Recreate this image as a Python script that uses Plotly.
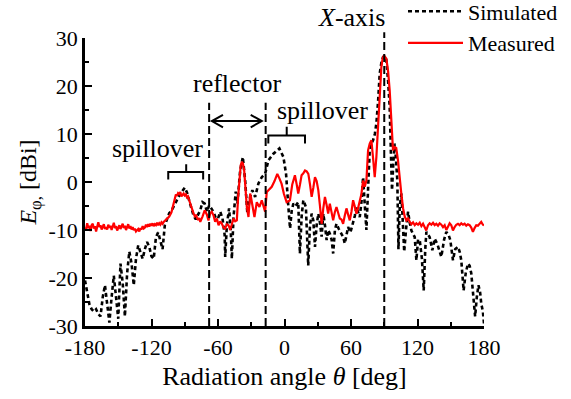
import plotly.graph_objects as go

# Far-field pattern, E_phi cut: simulated vs measured (dBi)
sim_angle = [-180, -178, -176, -174, -172, -170, -168, -166, -164, -162, -160, -158, -156, -154, -152,
             -150, -148, -146, -144, -142, -140, -138, -136, -134, -132, -130, -128, -126, -124, -122,
             -120, -118, -116, -114, -112, -110, -108, -106, -104, -102, -100, -98, -96, -94, -92, -90,
             -88, -86, -84, -82, -80, -78, -76, -74, -72, -70, -68, -66, -64, -62, -60, -58, -56, -54,
             -53.5, -52, -50, -48.5, -47.5, -46, -44, -42.5, -40, -37.6, -35.5, -33.5, -31, -29, -26.5,
             -23.5, -20.5, -17.5, -14.5, -10, -7, -4.6, -1, 1.4, 3.5, 5, 6.5, 8, 10, 12.4, 13.9, 15.5,
             17, 19.3, 21.4, 23, 24.5, 26, 27.5, 29, 30.5, 32, 33.5, 35, 36.5, 38, 39.5, 41, 42.5, 43.9,
             45.5, 46.9, 49, 51.4, 53, 54.4, 56, 57.4, 59.5, 61.9, 63.5, 64.9, 66.5, 67.9, 69.5, 70.9,
             72.5, 73.9, 75.5, 76.9, 78.5, 79.9, 81.5, 82.9, 84.5, 85.9, 87.5, 88.9, 90.5, 91.9, 93.5,
             94.9, 96, 97, 98.2, 99.4, 100.5, 101.8, 102.8, 104, 105.5, 108, 110, 111.5, 113, 114.5,
             117.5, 119, 120.5, 122, 124, 125.6, 127, 128, 131, 133.4, 135.5, 138, 141.5, 144, 146, 148,
             149.6, 152, 154, 156.5, 158, 159.5, 161.6, 163.5, 165.5, 167, 168.5, 170, 172, 173.5, 175,
             176.5, 177.5, 179, 180]
sim_gain = [-20.5, -23, -25.5, -26.5, -27, -26.5, -27.5, -28, -24, -21.5, -25, -29.3, -24, -19.5, -24,
            -28.5, -17, -21, -28, -19, -14.5, -17, -21.5, -16, -13.2, -14.5, -16, -14, -12.5, -13.5,
            -15.5, -16, -11.5, -10.5, -12, -14, -9, -7.5, -6.5, -6, -5, -4, -3.3, -2.5, -1.8, -1.2,
            -2.2, -3.6, -5.5, -7, -7.8, -6.8, -5.9, -4.2, -4.5, -6.2, -4.9, -5.5, -6.3, -7.5, -7.6, -6.2,
            -7.5, -11, -15.6, -9, -5.5, -10, -16, -7.3, -2, -4.5, 2.4, 5.2, 0.3, -6.6, -3.1, -1.7, -3.1,
            -0.3, 1, 1.7, 4.5, 5.9, 6.6, 7, 5.2, 1.7, -5.2, -9.7, -6, -4.5, -5, -4.2, -14.9, -7,
            -3.8, -5.2, -17.4, -9, -6.6, -8, -13.5, -9, -6.6, -8.5, -11.4, -6.6, -9, -12.1, -10, -10.8,
            -12, -14.9, -10, -8.7, -9.8, -10.8, -11.5, -12.8, -10.5, -9.4, -10.5, -8.7, -7, -5.2,
            -6.5, -7.3, -4, 1, -5, -10, -1, 6.6, 8, 8.7, 10, 12.2, 17, 22.6, 25, 26, 26.2, 25.4, 21,
            15.6, 6, -1.7, 4, 8, 5, 0.3, -14, -5, -2.4, -14.5, -9, -6.2, -8.5, -10.1, -11.5, -16.3, -12,
            -12.1, -16, -22.6, -14, -10.4, -11.5, -14.2, -11.8, -13, -15.6, -12, -10.4, -11, -12.1,
            -16.3, -14, -13.5, -14.5, -16.3, -22.6, -19, -17, -17.4, -19, -22.6, -28, -24, -21.5, -23,
            -25.3, -27, -29.5]

meas_angle = [-180, -179, -178, -177, -176, -175, -174, -173, -172, -171, -170, -169, -168, -167, -166,
              -165, -164, -163, -162, -161, -160, -159, -158, -157, -156, -155, -154, -153, -152, -151,
              -150, -149, -148, -147, -146, -145, -144, -143, -142, -141, -140, -139, -138, -137, -136,
              -135, -134, -133, -132, -131, -130, -129, -128, -127, -126, -125, -124, -123, -122, -121,
              -120, -119, -118, -117, -116, -115, -114, -113, -112, -111, -110, -109, -108, -106, -104,
              -102, -100, -99, -98, -97, -96, -95, -94, -93, -92, -91, -90, -89, -88, -87, -86, -85,
              -84, -83, -82, -81, -80, -79, -78, -77, -76, -74, -72, -70, -68.6, -67, -65.6, -64, -62.6,
              -61, -59.5, -58, -56.5, -55, -53.6, -52, -50.5, -49, -47.5, -46, -44.5, -43, -41.8, -40.6,
              -39.5, -38.5, -37.5, -36.4, -35.2, -34, -32.5, -31, -30, -28.9, -27.1, -25, -23.8, -22.6,
              -20.5, -19, -17.5, -16, -14, -11.5, -9, -6.5, -4.5, -2.6, -0.5, 1.9, 3.5, 4.9, 7, 9.4, 11,
              12.4, 14, 15.4, 17, 18.5, 20, 21.5, 23, 24.5, 26, 27.5, 29, 30.5, 32, 33.5, 35, 36.5, 38,
              39.4, 40.9, 42.4, 43.9, 45.4, 46.9, 48.4, 49.9, 51.4, 52.9, 54.4, 55.9, 57.4, 58.9, 60.4,
              61.9, 63.4, 64.9, 66.4, 67.9, 69.4, 70.9, 72.4, 73.9, 75.4, 76.9, 78.4, 79.9, 81.4, 82.9,
              84, 85, 86.2, 87.4, 88.6, 89.8, 91.9, 93.5, 94.9, 96.4, 97.9, 99.4, 100.8, 102.4, 103.9,
              105.4, 107, 108.5, 110, 111.5, 113, 114.5, 116, 117.5, 119, 120.5, 122, 123.5, 125, 126.5,
              127.9, 129.5, 131, 132.5, 134, 135.5, 137, 138.5, 140, 141.5, 143, 144.5, 146, 147.5, 149,
              150.5, 152, 153.5, 155, 156.5, 158, 159.5, 161, 162.5, 164, 165.5, 167, 168.5, 170, 171.5,
              173, 174.5, 176, 177.5, 179, 180]
meas_gain = [-9.5, -9.8, -8.6, -9.6, -9.1, -10.2, -9.0, -8.7, -9.7, -9.2, -10.3, -9.1, -8.4, -9.4, -9.0,
             -9.9, -9.3, -8.8, -9.8, -9.4, -9.9, -8.9, -9.5, -9.1, -10.0, -9.3, -8.5, -9.6, -9.2, -10.1,
             -9.4, -9.0, -9.8, -9.3, -8.7, -9.6, -9.1, -10.0, -9.5, -8.8, -9.7, -9.2, -9.9, -9.4, -10.0,
             -9.7, -10.3, -10.1, -9.8, -10.3, -9.6, -9.9, -9.2, -9.7, -9.5, -8.9, -9.4, -8.8, -9.3, -8.7,
             -9.1, -8.6, -9.2, -8.8, -9.0, -8.5, -9.0, -8.6, -8.9, -8.4, -8.7, -8.3, -8.1, -7.6, -7.2,
             -6.3, -4.5, -3.2, -2.6, -2.9, -2.3, -2.5, -2.1, -3.0, -2.7, -2.4, -2.8, -2.6, -3.2, -3.0,
             -3.8, -4.5, -5.5, -6.2, -6.6, -7.1, -6.8, -7.4, -7.9, -7.5, -8.3, -7.2, -5.9, -6.8, -8.0,
             -6.5, -6.2, -7.0, -8.3, -7.6, -9.0, -8.2, -8.7, -9.5, -9.7, -8.8, -9.0, -10.0, -8.5, -7.6,
             -8.2, -8.0, -3.0, 1.0, 3.5, 4.2, 3.8, 2.5, -1.5, -5.2, -7.3, -2.4, -3.5, -5.2, -7.3, -4.2,
             -4.8, -5.2, -3.8, -5.0, -6.2, -2.1, -1.5, -1.0, 0.2, 1.7, 0.7, -0.4, -2.5, -4.2, -4.0, -3.8,
             -0.5, 1.4, -0.5, -2.4, -0.5, 1.4, 1.8, 2.4, 2.2, 1.7, -0.5, -3.1, -1.2, 1.0, 0.2, -1.7,
             -5.0, -8.7, -5.5, -3.1, -4.8, -6.6, -4.5, -6.2, -8.0, -6.3, -5.2, -6.4, -7.6, -7.8, -8.7,
             -7.0, -5.5, -6.8, -8.0, -6.2, -3.8, -5.1, -6.6, -5.4, -4.2, -2.5, 0.3, -1.0, 0.3, 6.6, 8.0,
             8.7, 5.0, 1.0, 5.2, 10.0, 15.6, 20.0, 24.0, 25.8, 26.4, 25.7, 23.0, 19.1, 12.0, 6.6, 7.3,
             7.1, 4.5, 0.5, -2.4, -5.5, -7.2, -8.0, -7.6, -8.3, -8.8, -8.4, -9.0, -8.6, -8.9, -8.5,
             -9.2, -8.7, -9.4, -10.1, -9.0, -8.6, -8.9, -8.5, -9.0, -8.7, -9.1, -8.6, -8.9, -9.4, -9.0,
             -10.0, -9.3, -8.6, -9.0, -10.1, -9.4, -8.9, -8.7, -9.0, -8.6, -8.9, -8.7, -9.1, -8.8, -9.0,
             -9.5, -10.4, -9.6, -9.0, -9.1, -8.6, -8.3, -8.9, -9.0]

x_ticks = [-180, -120, -60, 0, 60, 120, 180]
x_tick_text = ["-180", "-120", "-60", "0", "60", "120", "180"]
y_ticks = [-30, -20, -10, 0, 10, 20, 30]
y_tick_text = ["-30", "-20", "-10", "0", "10", "20", "30"]

# region markers (deg)
reflector_edges = [-68, -17]
boresight = 90

FONT = "'Liberation Serif', 'Times New Roman', serif"
Y_LO, Y_HI = -30, 30


def yfrac(v):
    """Data value (dBi) -> paper fraction, for items that sit above the plot."""
    return (v - Y_LO) / (Y_HI - Y_LO)


fig = go.Figure()
fig.add_trace(go.Scatter(x=sim_angle, y=sim_gain, mode="lines", name="Simulated",
                         line=dict(color="black", width=2.6, dash="4px,3px")))
fig.add_trace(go.Scatter(x=meas_angle, y=meas_gain, mode="lines", name="Measured",
                         line=dict(color="#ff0000", width=2.2)))

shapes = []
dash_line = dict(color="black", width=2, dash="8px,4px")
# vertical region boundaries
for xv in reflector_edges:
    shapes.append(dict(type="line", xref="x", yref="paper", x0=xv, x1=xv, y0=0, y1=yfrac(16.5),
                       line=dash_line))
shapes.append(dict(type="line", xref="x", yref="paper", x0=boresight, x1=boresight, y0=0,
                   y1=yfrac(31.2), line=dash_line))

# double arrow spanning the reflector
ya = 12.7
xl, xr = -65.5, -20.5
shapes.append(dict(type="line", xref="x", yref="y", x0=xl, x1=xr, y0=ya, y1=ya,
                   line=dict(color="black", width=2)))
shapes.append(dict(type="path", xref="x", yref="y",
                   path=f"M {xl + 10} {ya + 1.3} L {xl} {ya} L {xl + 10} {ya - 1.3}",
                   line=dict(color="black", width=2)))
shapes.append(dict(type="path", xref="x", yref="y",
                   path=f"M {xr - 10} {ya + 1.3} L {xr} {ya} L {xr - 10} {ya - 1.3}",
                   line=dict(color="black", width=2)))


def bracket(x0, x1, xc, yb, drop, rise):
    return dict(type="path", xref="x", yref="y",
                path=(f"M {x0} {yb - drop} L {x0} {yb} L {x1} {yb} L {x1} {yb - drop} "
                      f"M {xc} {yb} L {xc} {yb + rise}"),
                line=dict(color="black", width=2))


shapes.append(bracket(-104.9, -73.4, -88.7, 2.1, 1.6, 1.6))
shapes.append(bracket(-14.6, 18.5, 2.0, 9.7, 1.7, 1.8))

ann_font = dict(family=FONT, size=26, color="black")
annotations = [
    dict(x=-114.8, y=7.0, text="spillover", showarrow=False, font=ann_font, xref="x", yref="y"),
    dict(x=-42.8, y=20.6, text="reflector", showarrow=False, font=ann_font, xref="x", yref="y"),
    dict(x=34.7, y=14.9, text="spillover", showarrow=False, font=ann_font, xref="x", yref="y"),
    dict(x=60.8, y=yfrac(34.3), text="<i>X</i>-axis", showarrow=False, font=ann_font,
         xref="x", yref="paper", xanchor="center", yanchor="middle"),
]

axis_common = dict(showgrid=False, zeroline=False, showline=True, linecolor="black", linewidth=2.5,
                   ticks="inside", ticklen=7, tickwidth=2, tickcolor="black",
                   tickfont=dict(family=FONT, size=22, color="black"))

fig.update_layout(
    width=571, height=399,
    margin=dict(l=85, r=87, t=38, b=73, autoexpand=False),
    paper_bgcolor="white", plot_bgcolor="white",
    font=dict(family=FONT, color="black"),
    shapes=shapes, annotations=annotations,
    showlegend=True,
    legend=dict(x=0.797, y=1.165, xanchor="left", yanchor="top", bgcolor="rgba(0,0,0,0)",
                font=dict(family=FONT, size=22, color="black"), itemwidth=55,
                tracegroupgap=0),
    xaxis=dict(range=[-180, 180], tickvals=x_ticks, ticktext=x_tick_text,
               minor=dict(dtick=30, ticks="inside", ticklen=4, tickwidth=2, tickcolor="black"),
               title=dict(text="Radiation angle <i>θ</i> [deg]", font=dict(family=FONT, size=26),
                          standoff=8),
               automargin=False, **axis_common),
    yaxis=dict(range=[Y_LO, Y_HI], tickvals=y_ticks, ticktext=y_tick_text,
               minor=dict(dtick=5, ticks="inside", ticklen=4, tickwidth=2, tickcolor="black"),
               title=dict(text="<i>E</i><sub>φ,</sub> [dBi]", font=dict(family=FONT, size=24),
                          standoff=6),
               automargin=False, **axis_common),
)

fig.write_html("out.html")
